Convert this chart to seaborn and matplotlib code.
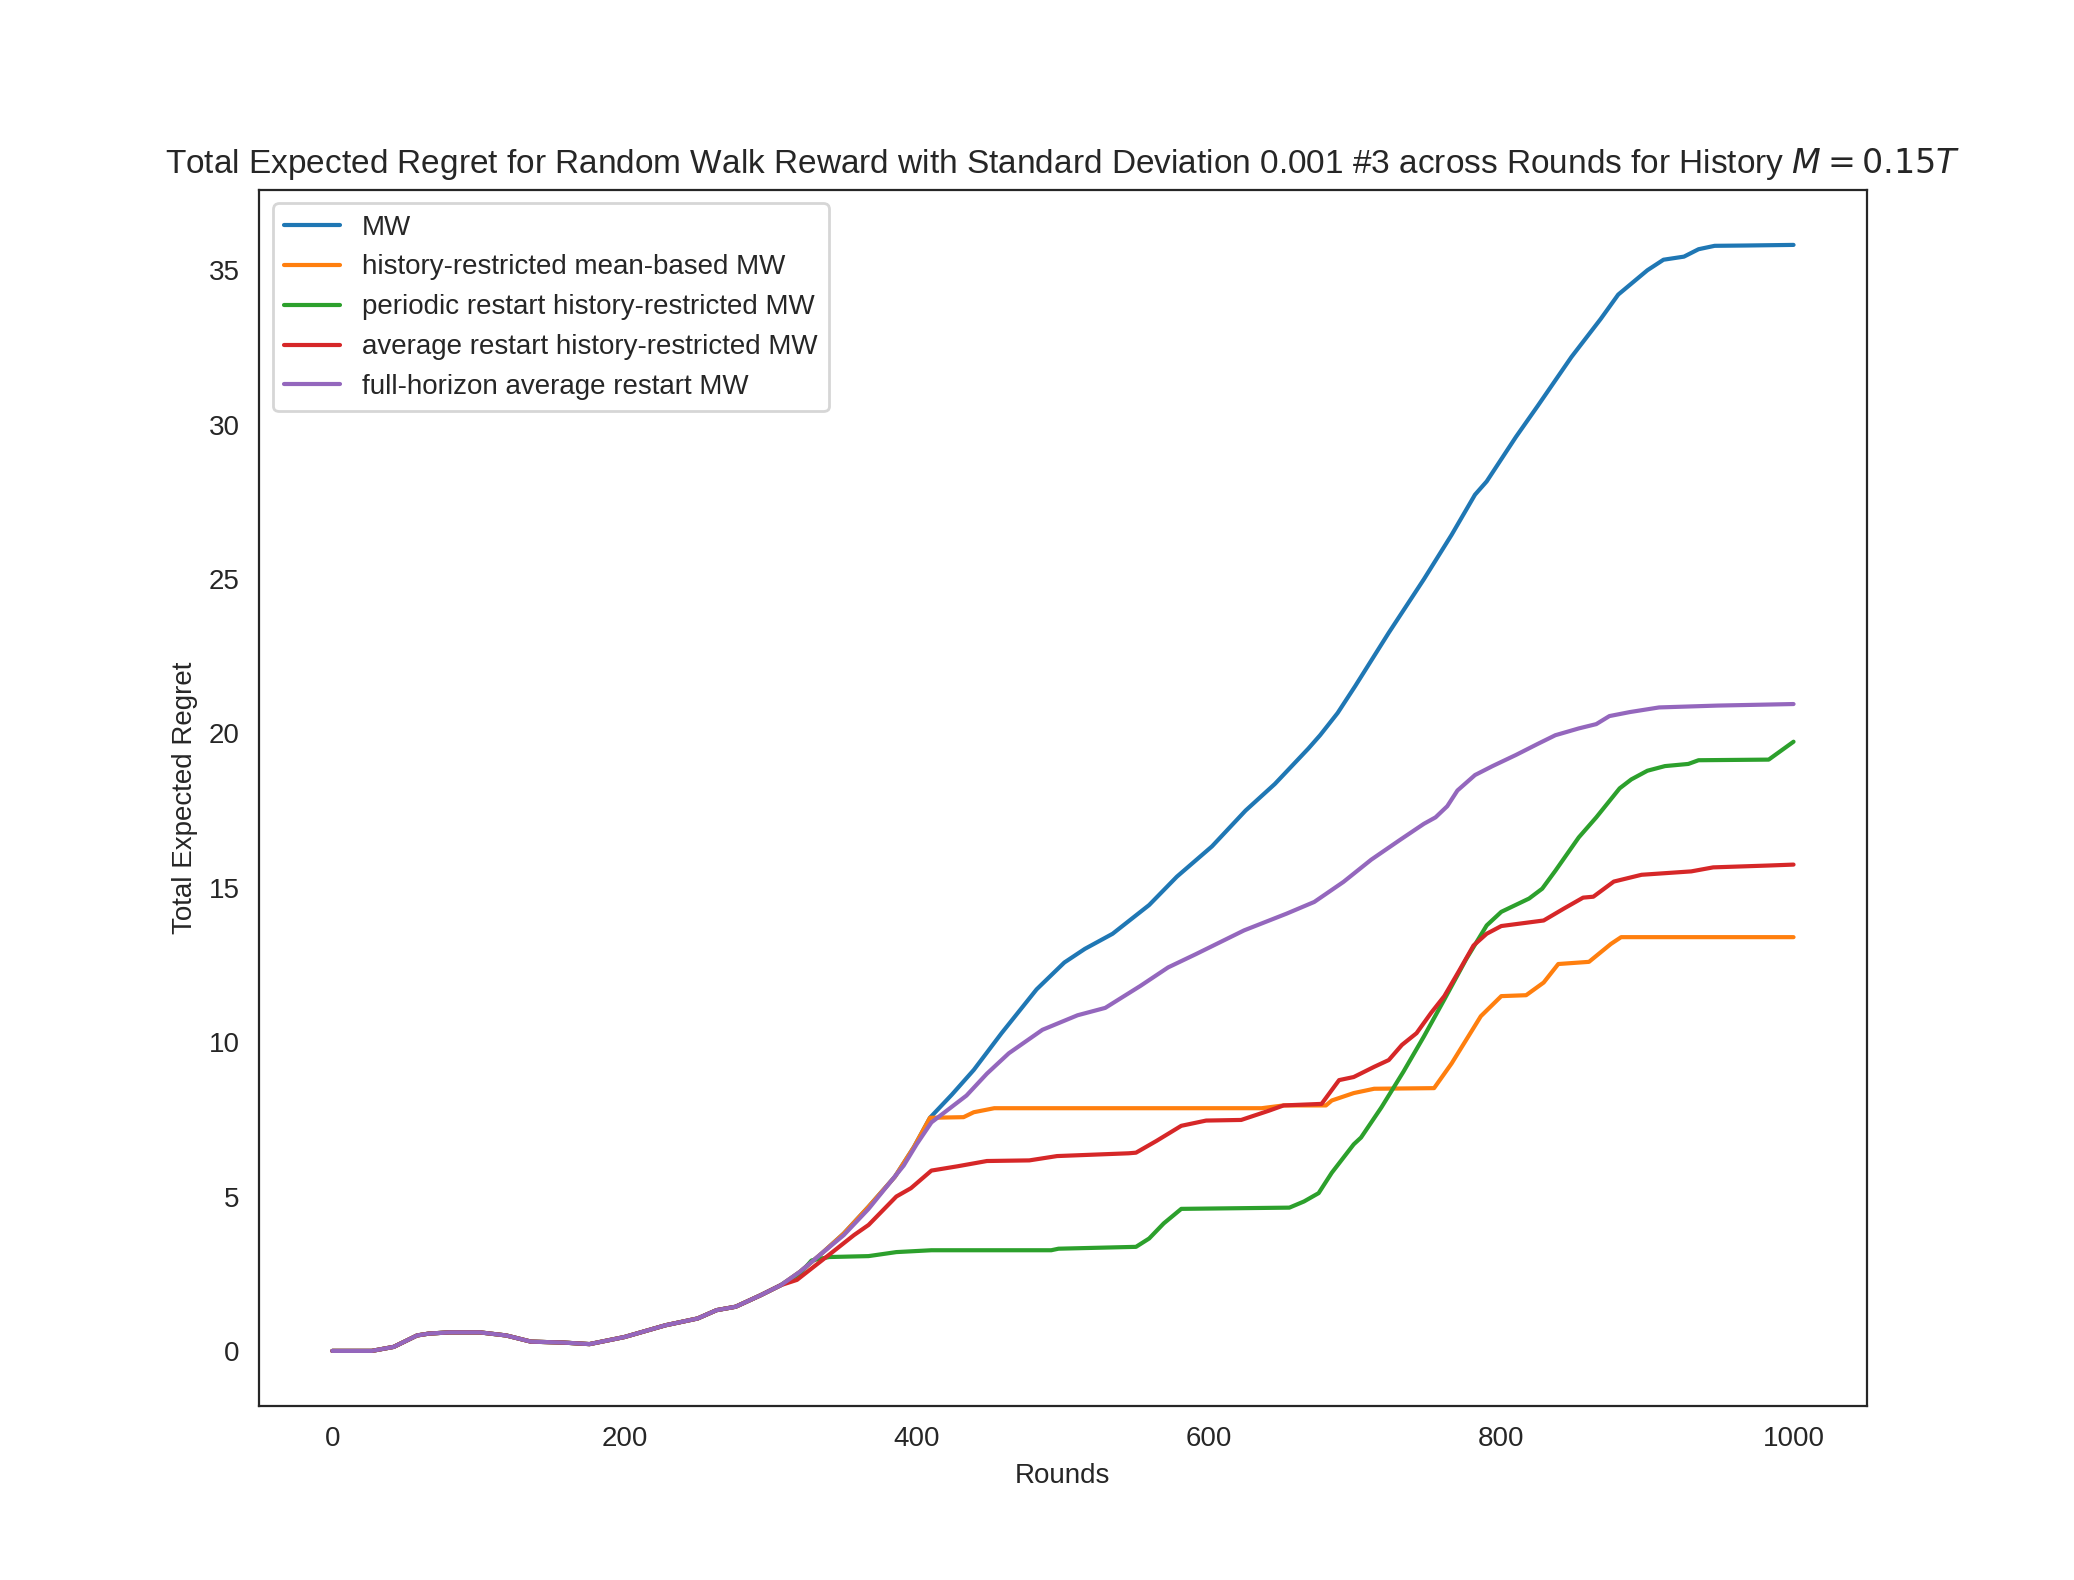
import matplotlib
matplotlib.use('Agg')
import matplotlib.pyplot as plt
import seaborn as sns
import pandas as pd

# rounds 0..~307 where every algorithm follows the same path
shared_rounds = [0, 27, 42, 58, 66, 80, 101, 119, 136, 158, 176, 200, 228, 250,
                 263, 276, 293, 307]
shared_regret = [0, 0, 0.13, 0.5, 0.56, 0.6, 0.6, 0.5, 0.3, 0.27, 0.22, 0.45,
                 0.83, 1.05, 1.32, 1.43, 1.8, 2.13]

# MW
mw_rounds = [320, 335, 350, 367, 385, 398, 409, 424, 439, 458, 482, 501, 515,
             534, 559, 578, 602, 625, 645, 668, 676, 688, 700, 723, 747, 766,
             782, 790, 810, 825, 848, 868, 880, 900, 911, 925, 935, 946, 967, 1000]
mw_regret = [2.56, 3.16, 3.8, 4.67, 5.64, 6.6, 7.55, 8.3, 9.1, 10.29, 11.71,
             12.58, 13.02, 13.51, 14.44, 15.36, 16.34, 17.5, 18.36, 19.51, 19.94,
             20.66, 21.53, 23.26, 24.99, 26.43, 27.73, 28.16, 29.6, 30.61, 32.19,
             33.42, 34.21, 35.0, 35.34, 35.44, 35.68, 35.79, 35.8, 35.82]

# history-restricted mean-based MW
hr_rounds = [320, 335, 350, 367, 385, 398, 409, 432, 439, 453, 636, 651, 680,
             684, 699, 713, 754, 766, 786, 800, 817, 829, 839, 860, 875, 882, 1000]
hr_regret = [2.56, 3.16, 3.8, 4.67, 5.64, 6.6, 7.55, 7.57, 7.73, 7.86, 7.86,
             7.95, 7.95, 8.11, 8.35, 8.49, 8.51, 9.31, 10.84, 11.49, 11.52, 11.93,
             12.53, 12.6, 13.18, 13.4, 13.4]

# periodic restart history-restricted MW
pr_rounds = [320, 328, 340, 367, 386, 410, 492, 497, 550, 559, 569, 581, 655,
             665, 675, 684, 699, 704, 718, 733, 747, 761, 776, 790, 800, 819,
             828, 837, 853, 865, 881, 889, 900, 912, 928, 935, 983, 1000]
pr_regret = [2.5, 2.93, 3.04, 3.07, 3.2, 3.26, 3.26, 3.31, 3.37, 3.64, 4.13,
             4.6, 4.64, 4.84, 5.11, 5.77, 6.69, 6.91, 7.89, 9.04, 10.18, 11.38,
             12.69, 13.78, 14.22, 14.65, 14.97, 15.55, 16.63, 17.28, 18.22,
             18.51, 18.79, 18.94, 19.01, 19.13, 19.15, 19.73]

# average restart history-restricted MW
ar_rounds = [318, 338, 357, 367, 386, 396, 410, 428, 448, 477, 496, 545, 550,
             564, 581, 598, 622, 641, 651, 677, 689, 699, 713, 723, 732, 742,
             752, 761, 771, 781, 790, 800, 829, 843, 856, 863, 877, 896, 930,
             945, 983, 1000]
ar_regret = [2.3, 3.04, 3.75, 4.08, 5.0, 5.27, 5.84, 5.98, 6.15, 6.17, 6.31,
             6.4, 6.42, 6.8, 7.29, 7.46, 7.48, 7.78, 7.95, 8.0, 8.77, 8.87, 9.2,
             9.42, 9.91, 10.29, 10.95, 11.49, 12.3, 13.13, 13.51, 13.76, 13.94,
             14.33, 14.68, 14.71, 15.2, 15.42, 15.53, 15.66, 15.72, 15.75]

# full-horizon average restart MW
fh_rounds = [320, 335, 350, 367, 391, 400, 410, 434, 448, 463, 486, 510, 529,
             553, 572, 591, 624, 653, 672, 692, 711, 731, 747, 755, 763, 770,
             782, 794, 810, 825, 837, 853, 865, 874, 888, 908, 948, 1000]
fh_regret = [2.56, 3.16, 3.75, 4.6, 6.0, 6.7, 7.4, 8.27, 8.98, 9.64, 10.4,
             10.87, 11.11, 11.82, 12.42, 12.85, 13.62, 14.16, 14.54, 15.19,
             15.91, 16.56, 17.07, 17.28, 17.64, 18.15, 18.65, 18.94, 19.3,
             19.66, 19.94, 20.16, 20.3, 20.56, 20.69, 20.84, 20.9, 20.95]

labels = ['MW', 'history-restricted mean-based MW',
          'periodic restart history-restricted MW',
          'average restart history-restricted MW',
          'full-horizon average restart MW']
series = [(mw_rounds, mw_regret), (hr_rounds, hr_regret), (pr_rounds, pr_regret),
          (ar_rounds, ar_regret), (fh_rounds, fh_regret)]

frames = []
for name, (r, v) in zip(labels, series):
    frames.append(pd.DataFrame({'Rounds': shared_rounds + r,
                                'Regret': shared_regret + v,
                                'algorithm': name}))
df = pd.concat(frames, ignore_index=True)

sns.set_style('white')
plt.rcParams['font.family'] = ['Liberation Sans', 'DejaVu Sans']

fig = plt.figure(figsize=(10.37, 7.9))
ax = sns.lineplot(data=df, x='Rounds', y='Regret', hue='algorithm',
                  hue_order=labels, palette='tab10', linewidth=1.5,
                  estimator=None, sort=False)
ax.legend(loc='upper left')
ax.set_xlabel('Rounds')
ax.set_ylabel('Total Expected Regret')
ax.set_title('Total Expected Regret for Random Walk Reward with Standard '
             'Deviation 0.001 #3 across Rounds for History $M = 0.15T$')
plt.savefig('out.png', dpi=200)
